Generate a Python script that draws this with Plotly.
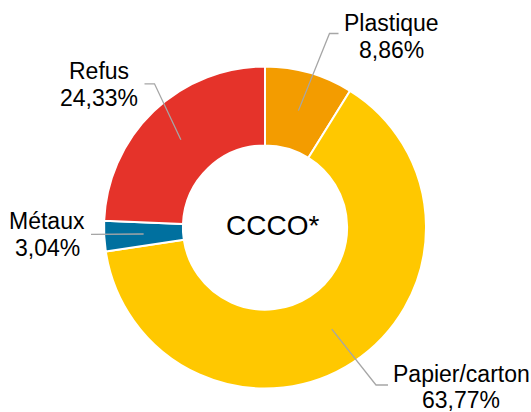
import math
import plotly.graph_objects as go

# ---- data ----
categories = ["Plastique", "Papier/carton", "Métaux", "Refus"]
values = [8.86, 63.77, 3.04, 24.33]
value_labels = ["8,86%", "63,77%", "3,04%", "24,33%"]
colors = ["#F39C00", "#FFC800", "#00709F", "#E5332A"]
center_text = "CCCO*"

# ---- layout constants (pixels) ----
W, H = 531, 412
CX, CY, R = 265, 227.5, 161
HOLE = 0.51
FS = 23
# label centre x and baselines of the two lines
label_pos = {
    "Plastique": (391, 29.5, 56.5),
    "Papier/carton": (461, 381, 406.7),
    "Métaux": (47, 228, 254.7),
    "Refus": (99, 78.3, 104.8),
}
leader_bend = {
    "Plastique": ((329.5, 33.5), (338.5, 33.5)),
    "Papier/carton": ((376, 385), (388, 385)),
    "Métaux": ((91, 234.3), (91, 234.3)),
    "Refus": ((154.5, 83.8), (144.5, 83.8)),
}

def px(x):
    return x / W

def py(y):
    return 1 - y / H

fig = go.Figure(go.Pie(
    labels=categories,
    values=values,
    hole=HOLE,
    sort=False,
    direction="clockwise",
    rotation=0,
    textinfo="none",
    marker=dict(colors=colors, line=dict(color="white", width=2)),
    domain=dict(x=[px(CX - R), px(CX + R)], y=[py(CY + R), py(CY - R)]),
    showlegend=False,
    hoverinfo="label+percent",
))

font = dict(family="Liberation Sans, Arial", size=FS, color="black")
annotations = [dict(
    x=px(272), y=py(225.5), xref="paper", yref="paper",
    text=center_text, showarrow=False,
    font=dict(family="Liberation Sans, Arial", size=28, color="black"),
)]
shapes = []
total = sum(values)
cum = 0.0
rmid = R * (1 + HOLE) / 2
for cat, v, lab in zip(categories, values, value_labels):
    mid = (cum + v / 2) / total * 2 * math.pi
    cum += v
    sx = CX + rmid * math.sin(mid)
    sy = CY - rmid * math.cos(mid)
    (bx, by), (ex, ey) = leader_bend[cat]
    path = f"M {px(sx)} {py(sy)} L {px(bx)} {py(by)} L {px(ex)} {py(ey)}"
    shapes.append(dict(type="path", xref="paper", yref="paper", path=path,
                       line=dict(color="#A6A6A6", width=1.3)))
    lx, b1, b2 = label_pos[cat]
    for txt, base in ((cat, b1), (lab, b2)):
        annotations.append(dict(
            x=px(lx), y=py(base - 7), xref="paper", yref="paper",
            text=txt, showarrow=False, xanchor="center", yanchor="middle",
            font=font,
        ))

fig.update_layout(
    width=W, height=H,
    margin=dict(l=0, r=0, t=0, b=0),
    paper_bgcolor="white", plot_bgcolor="white",
    annotations=annotations, shapes=shapes,
)
fig.write_html("out.html", config={"displayModeBar": False},
               post_script="document.body.style.margin='0';")
